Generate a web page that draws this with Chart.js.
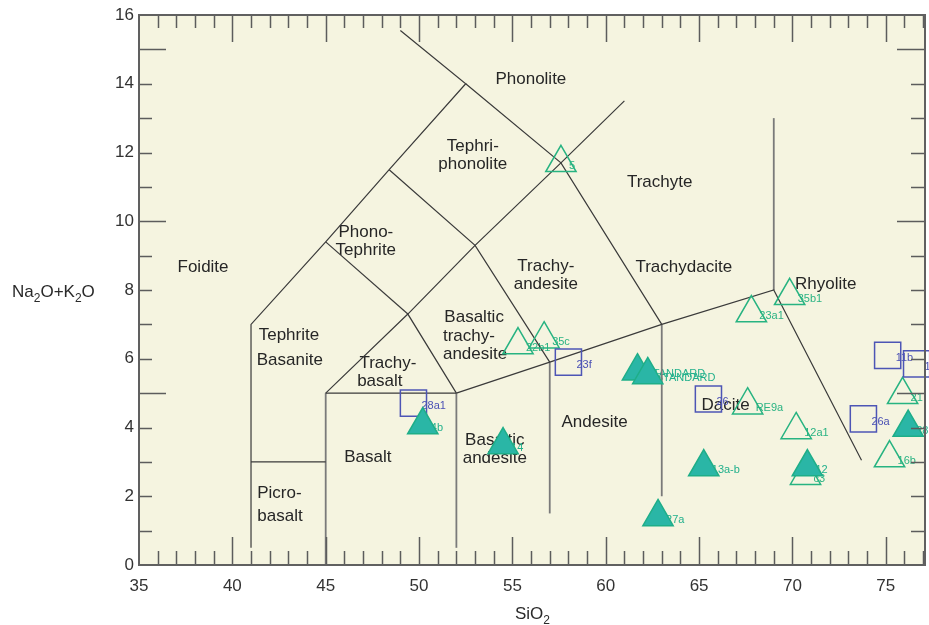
<!DOCTYPE html>
<html>
<head>
<meta charset="utf-8">
<title>TAS diagram</title>
<script src="https://cdn.jsdelivr.net/npm/chart.js@4.4.1/dist/chart.umd.min.js"></script>
<style>
  html, body { margin: 0; padding: 0; background: #fff; }
  #wrap { width: 929px; height: 625px; }
</style>
</head>
<body>
<div id="wrap"><canvas id="tasChart" width="929" height="625"></canvas></div>
<script>
const FONT = '"Liberation Sans", Arial, Helvetica, sans-serif';

// tick labels
const xTicks = [35, 40, 45, 50, 55, 60, 65, 70, 75];
const yTicks = [0, 2, 4, 6, 8, 10, 12, 14, 16];

// open triangles
const openTri = [
    { x: 57.6, y: 11.7 }, { x: 55.3, y: 6.4 }, { x: 56.7, y: 6.57 }, { x: 67.8, y: 7.33 },
    { x: 69.85, y: 7.83 }, { x: 67.6, y: 4.65 }, { x: 70.2, y: 3.93 }, { x: 70.7, y: 2.6 },
    { x: 75.9, y: 4.95 }, { x: 75.2, y: 3.11 }
];
const openTriNames = ['5', '22b1', '35c', '23a1', '35b1', 'RE9a', '12a1', 'c3', '21', '16b'];

// filled triangles
const fullTri = [
    { x: 50.2, y: 4.07 }, { x: 54.5, y: 3.49 }, { x: 61.7, y: 5.64 }, { x: 62.25, y: 5.53 },
    { x: 65.25, y: 2.85 }, { x: 70.8, y: 2.85 }, { x: 62.8, y: 1.4 }, { x: 76.2, y: 4.0 }
];
const fullTriNames = ['4b', '14', 'STANDARD', 'STANDARD', '13a-b', '12', '27a', '28'];

// open squares
const squares = [
    { x: 49.7, y: 4.71 }, { x: 58.0, y: 5.9 }, { x: 65.5, y: 4.83 },
    { x: 73.8, y: 4.25 }, { x: 75.1, y: 6.1 }, { x: 76.65, y: 5.85 }
];
const squareNames = ['28a1', '23f', '26', '26a', '11b', '11a'];

// field boundaries (SiO2, Na2O+K2O)
const fieldLines = [
    [[41, 0.5], [41, 7], [45, 9.4], [48.4, 11.5], [52.5, 14], [49, 15.55]],
    [[52.5, 14], [57.6, 11.7], [63, 7]],
    [[41, 3], [45, 3]],
    [[45, 5], [52, 5]],
    [[45, 5], [49.4, 7.3], [52, 5]],
    [[45, 9.4], [49.4, 7.3]],
    [[48.4, 11.5], [53, 9.3], [57, 5.9]],
    [[49.4, 7.3], [53, 9.3], [57.6, 11.7], [61, 13.5]],
    [[52, 5], [57, 5.9], [63, 7], [69, 8], [73.7, 3.05]]
];
const fieldVerticals = [
    [[45, 0], [45, 5]],
    [[52, 0.5], [52, 5]],
    [[57, 1.5], [57, 5.9]],
    [[63, 2], [63, 7]],
    [[69, 8], [69, 13]]
];

// field names
const fieldNames = [
    ['Foidite', 38.43, 8.67],
    ['Tephrite', 43.03, 6.69], ['Basanite', 43.08, 5.96],
    ['Picro-', 42.52, 2.09], ['basalt', 42.55, 1.43],
    ['Phono-', 47.15, 9.69], ['Tephrite', 47.15, 9.16],
    ['Tephri-', 52.88, 12.19], ['phonolite', 52.88, 11.67],
    ['Phonolite', 55.99, 14.14],
    ['Trachyte', 62.89, 11.14],
    ['Trachy-', 56.79, 8.70], ['andesite', 56.79, 8.17],
    ['Trachydacite', 64.18, 8.67],
    ['Basaltic', 52.95, 7.21], ['trachy-', 52.67, 6.66], ['andesite', 53.0, 6.14],
    ['Trachy-', 48.33, 5.88], ['basalt', 47.9, 5.35],
    ['Basalt', 47.26, 3.14],
    ['Basaltic', 54.06, 3.64], ['andesite', 54.06, 3.11],
    ['Andesite', 59.4, 4.16],
    ['Dacite', 66.42, 4.65],
    ['Rhyolite', 71.78, 8.17]
];

const toXY = pts => pts.map(p => ({ x: p[0], y: p[1] }));

const datasets = [
    {
        label: 'filled', data: fullTri, names: fullTriNames, nameColor: '#22b08c',
        pointStyle: 'triangle', pointRadius: 17.5, pointBorderWidth: 1.5,
        pointBackgroundColor: '#2ab6a6', pointBorderColor: '#1eae88', showLine: false, clip: false
    },
    {
        label: 'squares', data: squares, names: squareNames, nameColor: '#4a50b4',
        pointStyle: 'rect', pointRadius: 18.5, pointBorderWidth: 1.5,
        pointBackgroundColor: 'rgba(0,0,0,0)', pointBorderColor: '#4d55b5', showLine: false, clip: false
    },
    {
        label: 'open', data: openTri, names: openTriNames, nameColor: '#2ab383',
        pointStyle: 'triangle', pointRadius: 17.5, pointBorderWidth: 1.5,
        pointBackgroundColor: 'rgba(0,0,0,0)', pointBorderColor: '#27b381', showLine: false, clip: false
    }
];
fieldLines.forEach(l => datasets.push({
    type: 'line', data: toXY(l), showLine: true, pointRadius: 0,
    borderColor: '#3a3a3a', borderWidth: 1.2, fill: false, tension: 0
}));
fieldVerticals.forEach(l => datasets.push({
    type: 'line', data: toXY(l), showLine: true, pointRadius: 0,
    borderColor: '#7a7a7a', borderWidth: 1.8, fill: false, tension: 0
}));

// cream plot background, frame, inside ticks, titles
const frame = {
    id: 'frame',
    beforeDraw(chart) {
        const { ctx, chartArea: a } = chart;
        ctx.save();
        ctx.fillStyle = '#f5f4e0';
        ctx.fillRect(a.left, a.top, a.right - a.left, a.bottom - a.top);
        ctx.restore();
    },
    beforeDatasetsDraw(chart) {
        const { ctx } = chart;
        const xs = chart.scales.x, ys = chart.scales.y;
        ctx.save();
        ctx.fillStyle = '#262626';
        ctx.font = '17px ' + FONT;
        ctx.textAlign = 'center';
        ctx.textBaseline = 'middle';
        fieldNames.forEach(f => {
            ctx.fillText(f[0], xs.getPixelForValue(f[1]), ys.getPixelForValue(f[2]));
        });
        // sample names sit under the markers
        ctx.font = '11px ' + FONT;
        ctx.textAlign = 'left';
        chart.data.datasets.forEach((ds, i) => {
            if (!ds.names) return;
            ctx.fillStyle = ds.nameColor;
            chart.getDatasetMeta(i).data.forEach((el, j) => {
                ctx.fillText(ds.names[j], el.x + 8, el.y + 3);
            });
        });
        ctx.restore();
    },
    afterDraw(chart) {
        const { ctx, chartArea: a } = chart;
        const xs = chart.scales.x, ys = chart.scales.y;
        ctx.save();
        ctx.strokeStyle = '#5c5c5c';
        ctx.lineWidth = 1.5;
        ctx.beginPath();
        for (let v = 36; v <= 77; v++) {
            const px = Math.round(xs.getPixelForValue(v)) + 0.5;
            const len = v % 5 === 0 ? 28 : 14;
            ctx.moveTo(px, a.bottom); ctx.lineTo(px, a.bottom - len);
            ctx.moveTo(px, a.top); ctx.lineTo(px, a.top + len - 1);
        }
        for (let v = 1; v <= 15; v++) {
            const py = Math.round(ys.getPixelForValue(v)) + 0.5;
            const len = v % 5 === 0 ? 27 : 13;
            ctx.moveTo(a.left, py); ctx.lineTo(a.left + len, py);
            ctx.moveTo(a.right, py); ctx.lineTo(a.right - len - 1, py);
        }
        ctx.stroke();
        ctx.strokeStyle = '#606060';
        ctx.lineWidth = 2;
        ctx.strokeRect(a.left, a.top, a.right - a.left, a.bottom - a.top);

        // axis titles with subscripts
        ctx.fillStyle = '#2a2a2a';
        ctx.textBaseline = 'alphabetic';
        ctx.textAlign = 'left';
        const rich = (parts, x, y) => {
            let cx = x;
            parts.forEach(p => {
                ctx.font = (p[1] ? '12px ' : '17px ') + FONT;
                ctx.fillText(p[0], cx, p[1] ? y + 5 : y);
                cx += ctx.measureText(p[0]).width;
            });
        };
        rich([['Na', 0], ['2', 1], ['O+K', 0], ['2', 1], ['O', 0]], 12, 297);
        rich([['SiO', 0], ['2', 1]], 515, 619);
        ctx.restore();
    }
};

const chart = new Chart(document.getElementById('tasChart'), {
    type: 'scatter',
    data: { datasets },
    options: {
        responsive: false,
        animation: false,
        events: [],
        layout: { autoPadding: false, padding: { top: 15, right: 4, left: 0, bottom: 0 } },
        plugins: { legend: { display: false }, tooltip: { enabled: false } },
        scales: {
            x: {
                type: 'linear', min: 35, max: 77.1,
                afterBuildTicks: s => { s.ticks = xTicks.map(v => ({ value: v })); },
                afterFit: s => { s.height = 60; s.paddingLeft = 0; s.paddingRight = 0; },
                grid: { display: false, drawTicks: false },
                border: { display: false },
                ticks: { color: '#333', font: { family: FONT, size: 17 }, padding: 11, maxRotation: 0, autoSkip: false }
            },
            y: {
                type: 'linear', min: 0, max: 16,
                afterBuildTicks: s => { s.ticks = yTicks.map(v => ({ value: v })); },
                afterFit: s => { s.width = 139; s.paddingTop = 0; s.paddingBottom = 0; },
                grid: { display: false, drawTicks: false },
                border: { display: false },
                ticks: { color: '#333', font: { family: FONT, size: 17 }, padding: 5, autoSkip: false }
            }
        }
    },
    plugins: [frame]
});
</script>
</body>
</html>
